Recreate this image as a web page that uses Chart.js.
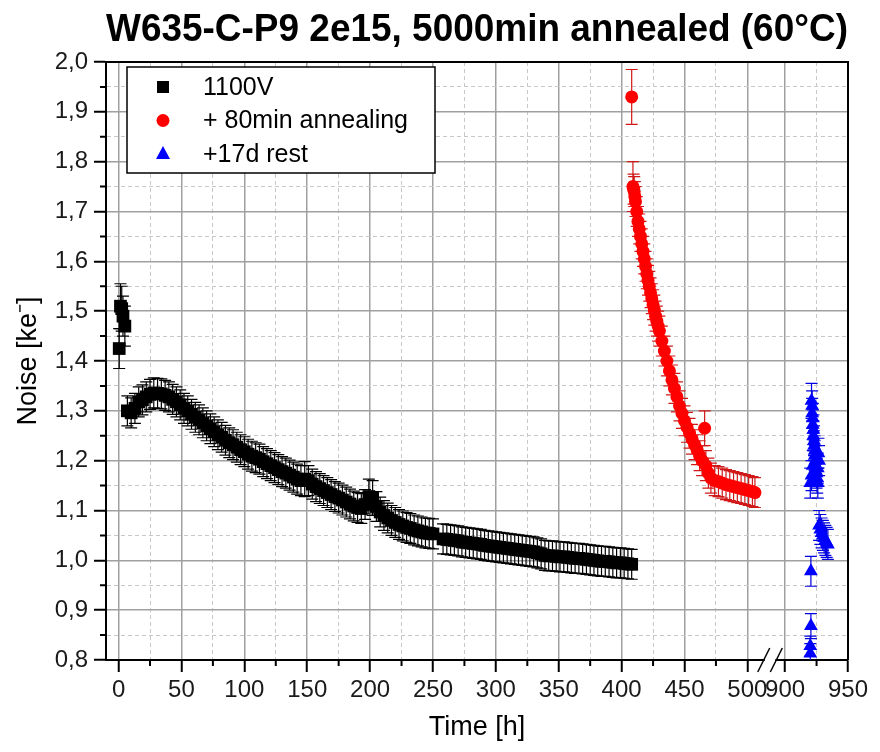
<!DOCTYPE html>
<html>
<head>
<meta charset="utf-8">
<title>W635-C-P9 noise</title>
<script src="https://cdn.jsdelivr.net/npm/chart.js@4.4.0/dist/chart.umd.min.js"></script>
<style>
  body { margin: 0; background: #fff; }
</style>
</head>
<body>
<canvas id="myChart" width="880" height="752"></canvas>
<script>
// chart text
const chartTitle = "W635-C-P9 2e15, 5000min annealed (60°C)";
const seriesNames = ["1100V", "+ 80min annealing", "+17d rest"];

// x axis has a break: 500 -> 900, so ticks past the break are shifted
const xTicks = [0, 25, 50, 75, 100, 125, 150, 175, 200, 225, 250, 275, 300, 325, 350, 375, 400, 425, 450, 475, 500, 530, 555, 580];
const xTickLabels = ["0", "", "50", "", "100", "", "150", "", "200", "", "250", "", "300", "", "350", "", "400", "", "450", "", "500", "900", "", "950"];

// 1100V (black squares)
const blackX = [0.5, 1.5, 2.5, 3.5, 5, 7, 10, 13, 16, 19, 22, 25, 28, 31, 34, 37, 40, 43, 46, 49, 52, 55, 58, 61, 64, 67, 70, 73, 76, 79,
  82, 85, 88, 91, 94, 97, 100, 103, 106, 109, 112, 115, 118, 121, 124, 127, 130, 133, 136, 139, 142, 145, 148, 151, 154, 157, 160, 163, 166, 169,
  172, 175, 178, 181, 184, 187, 190, 193, 196, 199, 202, 205, 208, 211, 214, 217, 220, 223, 226, 229, 232, 235, 238, 241, 244, 247, 250,
  258, 261, 264, 267, 270, 273, 276, 279, 282, 285, 288, 291, 294, 297, 300, 303, 306, 309, 312, 315, 318, 321, 324, 327, 330, 333, 336, 339,
  342, 345, 348, 351, 354, 357, 360, 363, 366, 369, 372, 375, 378, 381, 384, 387, 390, 393, 396, 399, 402, 405, 408];
const blackY = [1.425, 1.51, 1.505, 1.49, 1.47, 1.300, 1.296, 1.305, 1.318, 1.322, 1.328, 1.333, 1.336, 1.335, 1.334, 1.331, 1.328, 1.323, 1.318, 1.312, 1.305, 1.300, 1.293, 1.287, 1.282, 1.276, 1.270, 1.264, 1.258, 1.252,
  1.247, 1.241, 1.236, 1.232, 1.227, 1.222, 1.218, 1.213, 1.209, 1.206, 1.203, 1.198, 1.194, 1.190, 1.186, 1.182, 1.178, 1.175, 1.171, 1.167, 1.163, 1.160, 1.163, 1.160, 1.153, 1.148, 1.144, 1.140, 1.136, 1.132,
  1.128, 1.125, 1.121, 1.117, 1.113, 1.109, 1.106, 1.104, 1.112, 1.128, 1.125, 1.108, 1.097, 1.090, 1.085, 1.080, 1.076, 1.072, 1.069, 1.066, 1.064, 1.061, 1.059, 1.057, 1.055, 1.054, 1.053,
  1.043, 1.042, 1.041, 1.040, 1.039, 1.037, 1.036, 1.035, 1.034, 1.033, 1.032, 1.030, 1.029, 1.028, 1.027, 1.026, 1.025, 1.024, 1.023, 1.022, 1.021, 1.020, 1.019, 1.018, 1.017, 1.015, 1.013, 1.010,
  1.009, 1.009, 1.008, 1.007, 1.007, 1.006, 1.005, 1.004, 1.004, 1.003, 1.002, 1.001, 1.000, 0.999, 0.998, 0.998, 0.997, 0.996, 0.995, 0.995, 0.994, 0.993, 0.992];
const blackErr = [0.04, 0.045, 0.045, 0.04, 0.04, 0.03, 0.03, 0.03, 0.03, 0.03, 0.03, 0.03, 0.03, 0.03, 0.03, 0.03, 0.03, 0.03, 0.03, 0.03, 0.03, 0.03, 0.03, 0.03, 0.03, 0.03, 0.03, 0.03, 0.03, 0.03,
  0.03, 0.03, 0.03, 0.03, 0.03, 0.03, 0.03, 0.03, 0.03, 0.03, 0.03, 0.03, 0.03, 0.03, 0.03, 0.03, 0.03, 0.03, 0.03, 0.03, 0.03, 0.03, 0.035, 0.03, 0.03, 0.03, 0.03, 0.03, 0.03, 0.03,
  0.03, 0.03, 0.03, 0.03, 0.03, 0.03, 0.03, 0.03, 0.03, 0.035, 0.035, 0.03, 0.03, 0.03, 0.03, 0.03, 0.03, 0.03, 0.03, 0.03, 0.03, 0.03, 0.03, 0.03, 0.03, 0.03, 0.03,
  0.03, 0.03, 0.03, 0.03, 0.03, 0.03, 0.03, 0.03, 0.03, 0.03, 0.03, 0.03, 0.03, 0.03, 0.03, 0.03, 0.03, 0.03, 0.03, 0.03, 0.03, 0.03, 0.03, 0.03, 0.03, 0.03, 0.03, 0.03,
  0.03, 0.03, 0.03, 0.03, 0.03, 0.03, 0.03, 0.03, 0.03, 0.03, 0.03, 0.03, 0.03, 0.03, 0.03, 0.03, 0.03, 0.03, 0.03, 0.03, 0.03, 0.03, 0.03];

// + 80min annealing (red circles)
const redX = [408, 409, 409.5, 410, 410.5, 411, 412, 413, 414, 415, 416, 417, 418, 419, 420, 421, 422, 423, 424, 425, 426, 427, 428, 429, 430,
  432, 434, 436, 438, 440, 442, 444, 446, 448, 450, 452, 454, 456, 458, 460, 462, 464, 466, 467, 469, 471, 474, 477, 480, 483, 486, 489, 492, 495, 498, 501, 504, 506];
const redY = [1.93, 1.75, 1.745, 1.74, 1.73, 1.72, 1.70, 1.68, 1.665, 1.65, 1.635, 1.62, 1.605, 1.59, 1.575, 1.562, 1.55, 1.537, 1.525, 1.513, 1.502, 1.49, 1.48, 1.47, 1.46,
  1.44, 1.42, 1.40, 1.38, 1.362, 1.345, 1.328, 1.31, 1.295, 1.28, 1.267, 1.255, 1.243, 1.232, 1.222, 1.21, 1.20, 1.265, 1.19, 1.175, 1.165, 1.16, 1.158, 1.155, 1.152, 1.15, 1.148, 1.146, 1.144, 1.142, 1.14, 1.138, 1.136];
const redErr = [0.055, 0.05, 0.03, 0.03, 0.03, 0.03, 0.03, 0.03, 0.03, 0.03, 0.03, 0.03, 0.03, 0.03, 0.03, 0.03, 0.03, 0.03, 0.03, 0.03, 0.03, 0.03, 0.03, 0.03, 0.03,
  0.03, 0.03, 0.03, 0.03, 0.03, 0.03, 0.03, 0.03, 0.03, 0.03, 0.03, 0.03, 0.03, 0.03, 0.03, 0.03, 0.03, 0.035, 0.03, 0.03, 0.03, 0.03, 0.03, 0.03, 0.03, 0.03, 0.03, 0.03, 0.03, 0.03, 0.03, 0.03, 0.03];

// +17d rest (blue triangles)
const blueX = [920, 920, 920.5, 920.5, 920, 921, 921, 921.5, 921.5, 922, 922, 922.5, 922.5, 923, 923, 923.5, 923.5, 924, 922, 924.5, 925, 925.5, 926, 926.5, 927, 926,
  927, 928, 929, 930, 931, 932, 933, 934];
const blueY = [0.813, 0.828, 0.868, 0.978, 1.155, 1.17, 1.32, 1.31, 1.295, 1.285, 1.272, 1.262, 1.25, 1.24, 1.23, 1.22, 1.21, 1.2, 1.19, 1.18, 1.175, 1.165, 1.155, 1.215, 1.2, 1.185,
  1.07, 1.062, 1.055, 1.05, 1.045, 1.04, 1.036, 1.032];
const blueErr = [0.02, 0.02, 0.025, 0.03, 0.03, 0.03, 0.035, 0.03, 0.03, 0.03, 0.03, 0.03, 0.03, 0.03, 0.03, 0.03, 0.03, 0.03, 0.03, 0.03, 0.03, 0.03, 0.03, 0.03, 0.03, 0.03,
  0.03, 0.03, 0.03, 0.03, 0.03, 0.03, 0.03, 0.03];

const fam = "'Liberation Sans', Arial, sans-serif";

// times after the axis break are drawn shifted left by 370 h
function axisX(t) {
  return t >= 900 ? t - 370 : t;
}
function points(xs, ys) {
  return xs.map((x, i) => ({x: axisX(x), y: ys[i]}));
}
function isMajorY(v) {
  return Math.round(v * 100) % 10 === 0;
}
function isMajorX(v) {
  return xTickLabels[xTicks.indexOf(v)] !== "";
}

// vertical error bars with caps
const errorBars = {
  id: "errorBars",
  beforeDatasetsDraw(chart) {
    const ctx = chart.ctx, ys = chart.scales.y, a = chart.chartArea;
    ctx.save();
    ctx.beginPath();
    ctx.rect(a.left, a.top, a.right - a.left, a.bottom - a.top);
    ctx.clip();
    chart.data.datasets.forEach((ds, di) => {
      const meta = chart.getDatasetMeta(di);
      ctx.strokeStyle = ds.errColor;
      ctx.lineWidth = 1.2;
      meta.data.forEach((pt, i) => {
        const v = ds.data[i].y, e = ds.errors[i];
        const y1 = ys.getPixelForValue(v + e), y2 = ys.getPixelForValue(v - e);
        const x = pt.x, w = 6;
        ctx.beginPath();
        ctx.moveTo(x, y1); ctx.lineTo(x, y2);
        ctx.moveTo(x - w, y1); ctx.lineTo(x + w, y1);
        ctx.moveTo(x - w, y2); ctx.lineTo(x + w, y2);
        ctx.stroke();
      });
    });
    ctx.restore();
  }
};

// frame, minor ticks, axis break, boxed legend
const decorations = {
  id: "decorations",
  afterDraw(chart) {
    const ctx = chart.ctx, a = chart.chartArea, xs = chart.scales.x, ys = chart.scales.y;
    ctx.save();
    ctx.strokeStyle = "#000";
    ctx.lineWidth = 2;
    // top + right frame
    ctx.beginPath();
    ctx.moveTo(a.left, a.top); ctx.lineTo(a.right, a.top); ctx.lineTo(a.right, a.bottom);
    ctx.stroke();
    // minor ticks
    ctx.beginPath();
    xTicks.forEach(v => {
      if (!isMajorX(v)) {
        const px = xs.getPixelForValue(v);
        ctx.moveTo(px, a.bottom); ctx.lineTo(px, a.bottom + 6);
      }
    });
    ys.ticks.forEach(t => {
      if (!isMajorY(t.value)) {
        const py = ys.getPixelForValue(t.value);
        ctx.moveTo(a.left, py); ctx.lineTo(a.left - 6, py);
      }
    });
    ctx.stroke();
    // axis break
    const b1 = xs.getPixelForValue(513), b2 = xs.getPixelForValue(523);
    ctx.fillStyle = "#fff";
    ctx.fillRect(b1 + 1, a.bottom - 3, b2 - b1 - 2, 6);
    ctx.lineWidth = 1.5;
    ctx.beginPath();
    [b1, b2].forEach(bx => {
      ctx.moveTo(bx - 6, a.bottom + 12); ctx.lineTo(bx + 6, a.bottom - 12);
    });
    ctx.stroke();

    // legend
    const x0 = a.left + 21, y0 = a.top + 5, w = 308, h = 106;
    ctx.fillStyle = "#fff";
    ctx.fillRect(x0, y0, w, h);
    ctx.lineWidth = 1.5;
    ctx.strokeRect(x0, y0, w, h);
    ctx.font = "25px " + fam;
    ctx.textBaseline = "middle";
    chart.data.datasets.forEach((ds, i) => {
      const cx = x0 + 36, cy = y0 + 20 + i * 33.5;
      ctx.fillStyle = ds.backgroundColor;
      ctx.beginPath();
      if (ds.pointStyle === "rect") {
        ctx.rect(cx - 6, cy - 6, 12, 12);
      } else if (ds.pointStyle === "circle") {
        ctx.arc(cx, cy, 6.5, 0, Math.PI * 2);
      } else {
        ctx.moveTo(cx, cy - 8); ctx.lineTo(cx + 7, cy + 5); ctx.lineTo(cx - 7, cy + 5); ctx.closePath();
      }
      ctx.fill();
      ctx.fillStyle = "#000";
      ctx.fillText(ds.label, x0 + 76, cy + 1);
    });
    ctx.restore();
  }
};

new Chart("myChart", {
  type: "scatter",
  data: {
    datasets: [
      {label: seriesNames[0], data: points(blackX, blackY), errors: blackErr, errColor: "#000",
        pointStyle: "rect", pointRadius: 9, backgroundColor: "#000", borderColor: "#000", borderWidth: 0},
      {label: seriesNames[1], data: points(redX, redY), errors: redErr, errColor: "#d01818",
        pointStyle: "circle", pointRadius: 6.5, backgroundColor: "#ff0000", borderColor: "#ff0000", borderWidth: 0},
      {label: seriesNames[2], data: points(blueX, blueY), errors: blueErr, errColor: "#0000e0",
        pointStyle: "triangle", pointRadius: 8, backgroundColor: "#0000ff", borderColor: "#0000ff", borderWidth: 0}
    ]
  },
  options: {
    responsive: false,
    animation: false,
    devicePixelRatio: 1,
    layout: {padding: {left: 0, right: 32, top: 0, bottom: 0}},
    plugins: {
      legend: {display: false},
      tooltip: {enabled: false},
      title: {
        display: true,
        text: chartTitle,
        fullSize: false,
        color: "#000",
        font: {family: fam, size: 38, weight: "bold"},
        padding: {top: 8, bottom: 8.4}
      }
    },
    scales: {
      x: {
        type: "linear",
        min: -10,
        max: 580,
        afterBuildTicks: s => { s.ticks = xTicks.map(v => ({value: v})); },
        afterFit: s => { s.height = 92; },
        ticks: {
          autoSkip: false,
          maxRotation: 0,
          padding: 4,
          color: "#1a1a1a",
          font: {family: fam, size: 24},
          callback: v => xTickLabels[xTicks.indexOf(v)]
        },
        grid: {
          color: c => c.tick && isMajorX(c.tick.value) ? "#a0a0a0" : "#c8c8c8",
          lineWidth: c => c.tick && isMajorX(c.tick.value) ? 1.5 : 1,
          tickColor: c => c.tick && isMajorX(c.tick.value) ? "#000" : "rgba(0,0,0,0)",
          tickLength: 12,
          tickWidth: 2
        },
        border: {
          color: "#000",
          width: 2,
          dash: c => c.tick && !isMajorX(c.tick.value) ? [4, 3] : []
        },
        title: {
          display: true,
          text: "Time [h]",
          color: "#000",
          font: {family: fam, size: 27},
          padding: {top: 0, bottom: 8}
        }
      },
      y: {
        min: 0.8,
        max: 2.0,
        afterFit: s => { s.width = 106; },
        ticks: {
          stepSize: 0.05,
          autoSkip: false,
          padding: 6,
          color: "#1a1a1a",
          font: {family: fam, size: 24},
          callback: v => isMajorY(v) ? v.toFixed(1).replace(".", ",") : ""
        },
        grid: {
          color: c => c.tick && isMajorY(c.tick.value) ? "#a0a0a0" : "#c8c8c8",
          lineWidth: c => c.tick && isMajorY(c.tick.value) ? 1.5 : 1,
          tickColor: c => c.tick && isMajorY(c.tick.value) ? "#000" : "rgba(0,0,0,0)",
          tickLength: 12,
          tickWidth: 2
        },
        border: {
          color: "#000",
          width: 2,
          dash: c => c.tick && !isMajorY(c.tick.value) ? [4, 3] : []
        },
        title: {
          display: true,
          text: "Noise [ke\u207B]",
          color: "#000",
          font: {family: fam, size: 27},
          padding: {top: 12, bottom: 0}
        }
      }
    }
  },
  plugins: [errorBars, decorations]
});
</script>
</body>
</html>
